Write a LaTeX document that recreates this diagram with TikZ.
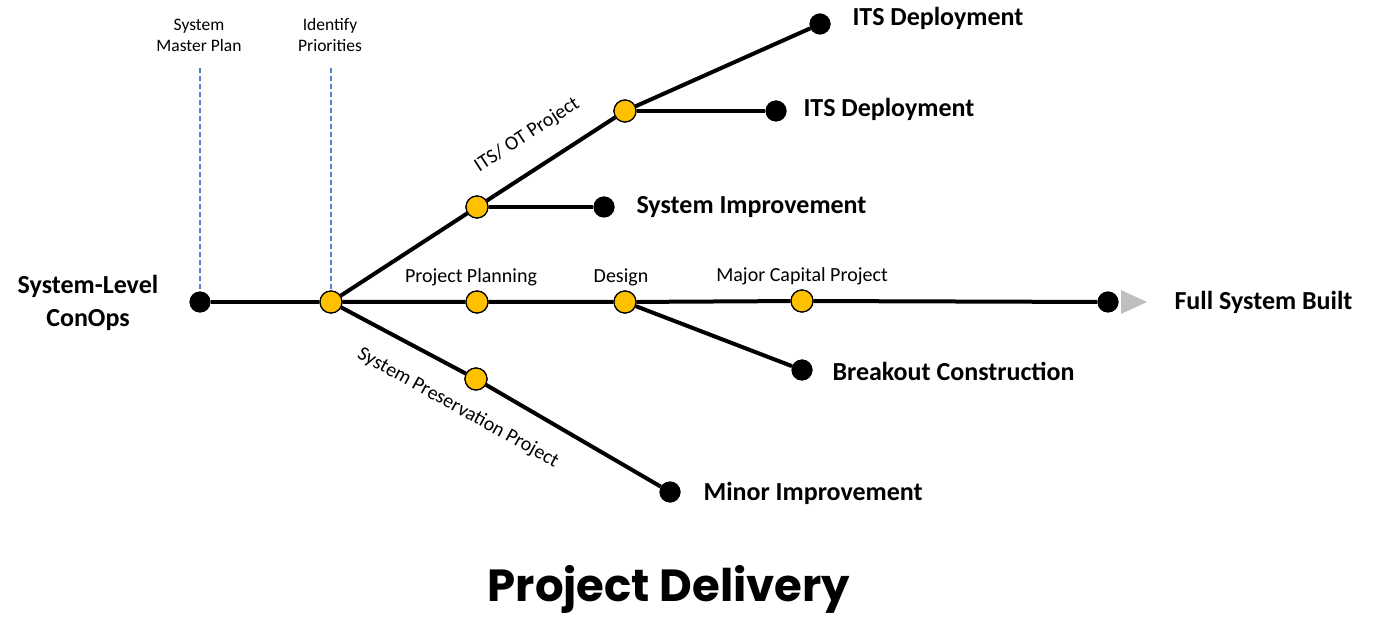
\documentclass[tikz,border=0pt]{standalone}
\usepackage{fontspec}
\setmainfont{Carlito}
\newfontfamily\titlefont{Poppins}
\begin{document}
\begin{tikzpicture}[x=1pt,y=-1pt,
  track/.style={line width=4pt,black},
  milestone/.style={circle,fill=black,minimum size=21pt,inner sep=0pt},
  gate/.style={circle,draw=black,line width=1.2pt,fill=gold,minimum size=22pt,inner sep=0pt},
  phase/.style={dashed,dash pattern=on 5pt off 3pt,line width=1.5pt,color=phaseblue},
  outcome/.style={anchor=west,font=\fontsize{26}{30}\selectfont\bfseries},
  stage/.style={font=\fontsize{20}{24}\selectfont},
  toplabel/.style={font=\fontsize{17.5}{21}\selectfont,align=center}]
\definecolor{gold}{HTML}{FFC000}
\definecolor{phaseblue}{HTML}{4F7FD0}
\definecolor{tipgray}{HTML}{BFBFBF}
\useasboundingbox (0,0) rectangle (1381,617);

% phase markers
\coordinate (smpTop) at (200,68);
\coordinate (ipTop) at (331,68);
\node[toplabel] (smp) at (199,35) {System\\Master Plan};
\node[toplabel] (ip) at (330,35) {Identify\\Priorities};

% nodes
\node[milestone] (start) at (200,302) {};
\node[gate] (prio) at (331,302) {};
\node[gate] (plan) at (477,302) {};
\node[gate] (design) at (625,302) {};
\node[gate] (major) at (802,301) {};
\node[milestone] (full) at (1108,302) {};

\node[gate] (its1) at (477,207) {};
\node[gate] (its2) at (625,111) {};
\node[milestone] (sysimp) at (604,207) {};
\node[milestone] (itsdA) at (776,111) {};
\node[milestone] (itsdB) at (820,24) {};

\node[milestone] (breakout) at (802,370) {};
\node[gate] (pres) at (476,379) {};
\node[milestone] (minor) at (670,492) {};

% dashed phase lines
\draw[phase] (smpTop) -- (start.north);
\draw[phase] (ipTop) -- (prio.north);

% tracks
\draw[track] (start) -- (prio);
\draw[track] (prio) -- (plan) -- (design) -- (major) -- (full);
\draw[track] (prio) -- (its1) -- (its2) -- (itsdB);
\draw[track] (its1) -- (sysimp);
\draw[track] (its2) -- (itsdA);
\draw[track] (design) -- (breakout);
\draw[track] (prio) -- (pres) -- (minor);

% redraw nodes on top of tracks
\foreach \p in {{331,302},{477,302},{625,302},{802,301},{477,207},{625,111},{476,379}}
  \node[gate] at (\p) {};
\foreach \p in {{200,302},{1108,302},{604,207},{776,111},{820,24},{802,370},{670,492}}
  \node[milestone] at (\p) {};

% end arrow
\coordinate (tipA) at (1121,290);
\coordinate (tipB) at (1121,314);
\coordinate (tipC) at (1147,302);
\fill[tipgray] (tipA) -- (tipC) -- (tipB) -- cycle;

% outcomes
\node[font=\fontsize{26}{33}\selectfont\bfseries,align=center] (conops) at (88,303) {System-Level\\ConOps};
\node[outcome] (fullT) at (1171,302) {Full System Built};
\node[outcome] (breakT) at (829,371) {Breakout Construction};
\node[outcome] (minorT) at (700,493) {Minor Improvement};
\node[outcome] (sysimpT) at (633,207) {System Improvement};
\node[outcome] (itsAT) at (800,109) {ITS Deployment};
\node[outcome] (itsBT) at (849,18) {ITS Deployment};

% stage labels
\node[stage] (planT) at (471,277) {Project Planning};
\node[stage] (designT) at (621,277) {Design};
\node[stage] (majorT) at (802,276) {Major Capital Project};
\node[stage,rotate=33] (itsT) at (527,135) {ITS/ OT Project};
\node[stage,rotate=-29] (presT) at (458,408) {System Preservation Project};

% title
\node[font=\titlefont\fontsize{45}{50}\selectfont\bfseries,inner sep=0pt] (title) at (669,589) {Project Delivery};
\end{tikzpicture}
\end{document}
